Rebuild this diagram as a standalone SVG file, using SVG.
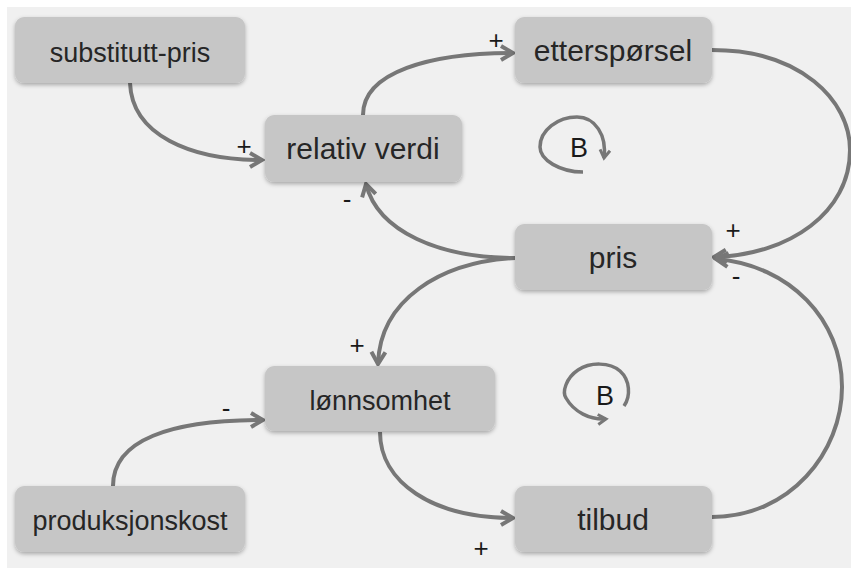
<svg xmlns="http://www.w3.org/2000/svg" width="851" height="568" viewBox="0 0 851 568">
<style>
.node rect{fill:#c6c6c6;filter:url(#sh)}
.node text{font-family:"Liberation Sans",Arial,sans-serif;fill:#262626;text-anchor:middle}
.s{font-size:27px}
.l{font-size:30px}
.c{fill:none;stroke:#777;stroke-width:4;marker-end:url(#ah)}
.loop{fill:none;stroke:#777;stroke-width:3.5;marker-end:url(#ah2)}
.lbl{font-family:"Liberation Sans",Arial,sans-serif;font-size:26px;fill:#1a1a1a;text-anchor:middle}
.bl{font-family:"Liberation Sans",Arial,sans-serif;font-size:27px;fill:#1a1a1a;text-anchor:middle}
</style>
<defs>
<filter id="sh" x="-10%" y="-10%" width="120%" height="130%">
<feDropShadow dx="0" dy="2" stdDeviation="2" flood-color="#000" flood-opacity="0.3"/>
</filter>
<marker id="ah" markerUnits="userSpaceOnUse" markerWidth="18" markerHeight="18" viewBox="0 0 18 18" refX="15" refY="9" orient="auto">
<path d="M3,2 L15,9 L3,16" fill="none" stroke="#777" stroke-width="4"/>
</marker>
<marker id="ah2" markerUnits="userSpaceOnUse" markerWidth="14" markerHeight="14" viewBox="0 0 14 14" refX="11" refY="7" orient="auto">
<path d="M3,2 L11,7 L3,12" fill="none" stroke="#777" stroke-width="3"/>
</marker>
</defs>
<rect x="0" y="0" width="851" height="568" fill="#ffffff"/>
<rect x="7" y="7" width="844" height="561" fill="#f0f0f0"/>

<g id="connectors">
<path class="c" d="M130,83 C132,135 190,160 262,160"/>
<path class="c" d="M363,115 C363,72 430,53 513,53"/>
<path class="c" d="M712,50 C800,50 850,100 850,150 C850,212 790,255 714,257"/>
<path class="c" d="M515,258 C440,258 378,232 366,184"/>
<path class="c" d="M515,258 C440,262 380,300 378,364"/>
<path class="c" d="M113,486 C113,440 170,420 263,420"/>
<path class="c" d="M380,432 C380,482 432,518 513,518"/>
<path class="c" d="M712,517 C790,517 842,452 842,387 C842,320 790,265 716,259"/>
<path class="loop" d="M583,172 C560,172 540,160 540,147 C540,130 558,117 577,117 C595,117 607,135 604,158"/>
<path class="loop" d="M624,406 C631,396 630,380 620,371 C610,362 590,362 578,370 C566,378 562,392 566,398 C574,412 590,420 606,419"/>
</g>

<g id="labels">
<text class="lbl" x="244" y="155">+</text>
<text class="lbl" x="496" y="49">+</text>
<text class="lbl" x="733" y="239">+</text>
<text class="lbl" x="736" y="285">-</text>
<text class="lbl" x="347" y="208">-</text>
<text class="lbl" x="357" y="354">+</text>
<text class="lbl" x="226" y="417">-</text>
<text class="lbl" x="481" y="557">+</text>
<text class="bl" x="579" y="157">B</text>
<text class="bl" x="605" y="405">B</text>
</g>

<g id="substitutt-pris" class="node"><rect x="15" y="17" width="230" height="66" rx="9"/><text class="s" x="130" y="62">substitutt-pris</text></g>
<g id="relativ-verdi" class="node"><rect x="265" y="115" width="197" height="67" rx="9"/><text class="l" x="363" y="159">relativ verdi</text></g>
<g id="ettersporsel" class="node"><rect x="515" y="17" width="197" height="66" rx="9"/><text class="l" x="613" y="61">etterspørsel</text></g>
<g id="pris" class="node"><rect x="515" y="224" width="197" height="66" rx="9"/><text class="l" x="613" y="268">pris</text></g>
<g id="lonnsomhet" class="node"><rect x="265" y="366" width="230" height="65" rx="9"/><text class="s" x="380" y="410">lønnsomhet</text></g>
<g id="tilbud" class="node"><rect x="515" y="486" width="197" height="66" rx="9"/><text class="l" x="613" y="530">tilbud</text></g>
<g id="produksjonskost" class="node"><rect x="15" y="486" width="230" height="66" rx="9"/><text class="s" x="130" y="530">produksjonskost</text></g>
</svg>
